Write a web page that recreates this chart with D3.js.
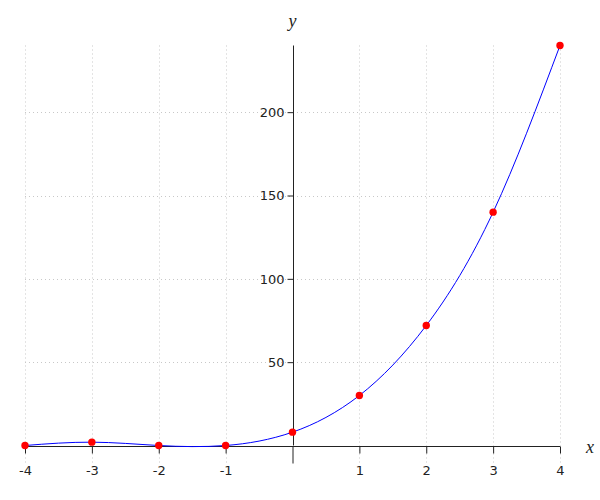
<!DOCTYPE html>
<html><head><meta charset="utf-8">
<script src="https://cdn.jsdelivr.net/npm/d3@7"></script>
<style>body{margin:0;background:#fff;} svg{display:block;}</style>
</head><body>
<svg id="c" width="600" height="500"></svg>
<script>
const xs = [-4, -3, -2, -1, 0, 1, 2, 3, 4];
const ys = [0, 2, 0, 0, 8, 30, 72, 140, 240];
const xTicks = [-4, -3, -2, -1, 1, 2, 3, 4];
const yTicks = [50, 100, 150, 200];

const svg = d3.select("#c");
const x = d3.scaleLinear().domain([-4, 4]).range([25, 560]);
const y = d3.scaleLinear().domain([0, 240]).range([445.5, 45.5]);
const font = "DejaVu Sans, sans-serif";

// grid
const grid = svg.append("g").attr("stroke", "#c8c8c8").attr("stroke-width", 1).attr("stroke-dasharray", "1,3");
xTicks.forEach(t => grid.append("line").attr("x1", Math.round(x(t)) + 0.5).attr("x2", Math.round(x(t)) + 0.5)
  .attr("y1", y(240)).attr("y2", y(0) + 17));
yTicks.forEach(t => grid.append("line").attr("x1", x(-4)).attr("x2", x(4))
  .attr("y1", Math.round(y(t)) + 0.5).attr("y2", Math.round(y(t)) + 0.5));

// axes
const xAxis = d3.axisBottom(x).tickValues(xTicks.concat([0])).tickSize(7).tickPadding(12)
  .tickFormat(d => d === 0 ? "" : d3.format("d")(d).replace("−", "-"));
const gx = svg.append("g").attr("transform", `translate(0,${Math.round(y(0)) + 0.5})`).call(xAxis);
gx.select(".domain").attr("d", `M${x(-4)},0H${x(4)}`);
gx.selectAll(".tick line").attr("stroke", "#222");
gx.selectAll(".tick").filter(d => d === 0).select("line").attr("y2", 17);
gx.selectAll("text").attr("font-family", font).attr("font-size", 13).attr("fill", "#222");
gx.select(".domain").attr("stroke", "#222");

const yAxis = d3.axisLeft(y).tickValues(yTicks).tickSize(6).tickPadding(3);
const gy = svg.append("g").attr("transform", `translate(${Math.round(x(0)) + 0.5},0)`).call(yAxis);
gy.select(".domain").attr("d", `M0,${y(240)}V${y(0)}`).attr("stroke", "#222");
gy.selectAll(".tick line").attr("stroke", "#222");
gy.selectAll("text").attr("font-family", font).attr("font-size", 13).attr("fill", "#222");

// axis labels
svg.append("text").attr("x", x(0)).attr("y", 27).attr("text-anchor", "middle")
  .attr("font-family", "Liberation Serif, serif").attr("font-style", "italic").attr("font-size", 18).attr("fill", "#222").text("y");
svg.append("text").attr("x", 590).attr("y", 453).attr("text-anchor", "middle")
  .attr("font-family", "Liberation Serif, serif").attr("font-style", "italic").attr("font-size", 18).attr("fill", "#222").text("x");

// curve
const data = xs.map((v, i) => [v, ys[i]]);
const line = d3.line().x(d => x(d[0])).y(d => y(d[1])).curve(d3.curveNatural);
svg.append("path").datum(data).attr("d", line).attr("fill", "none").attr("stroke", "#0000ff").attr("stroke-width", 1);

svg.append("g").selectAll("circle").data(data).join("circle")
  .attr("cx", d => x(d[0])).attr("cy", d => y(d[1])).attr("r", 3.7).attr("fill", "#ff0000");
</script>
</body></html>
